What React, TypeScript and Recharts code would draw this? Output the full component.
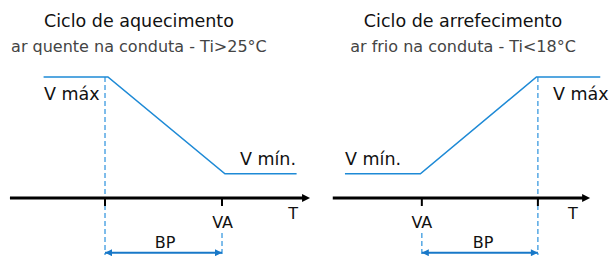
import { ComposedChart, Line, Scatter, XAxis, YAxis, ReferenceLine } from 'recharts'

// velocity levels and band
const V_MIN = 1
const V_MAX = 5
const BP = 4
const HEAT_VA = 25
const COOL_VA = 18

// heating cycle (left)
const heatingProfile = [
  { t: 18.9, v: V_MAX },
  { t: 21.1, v: V_MAX },
  { t: 25.1, v: V_MIN },
  { t: 27.55, v: V_MIN },
]
const heatingAxis = [
  { t: 17.75, v: 0 },
  { t: 27.8, v: 0 },
]
const heatingAxisTip = [{ t: 28.01, v: 0 }]

// cooling cycle (right)
const coolingProfile = [
  { t: 15.35, v: V_MIN },
  { t: 17.95, v: V_MIN },
  { t: 21.95, v: V_MAX },
  { t: 24.15, v: V_MAX },
]
const coolingAxis = [
  { t: 14.93, v: 0 },
  { t: 23.6, v: 0 },
]
const coolingAxisTip = [{ t: 23.8, v: 0 }]

const heatingLabels = [
  { t: 22.16, v: 7.07, text: 'Ciclo de aquecimento', kind: 'title' },
  { t: 22.16, v: 6.03, text: 'ar quente na conduta - Ti>25°C', kind: 'sub' },
  { t: 18.91, v: 4.05, text: 'V máx', kind: 'start' },
  { t: 27.53, v: 1.36, text: 'V mín.', kind: 'end' },
  { t: 25.02, v: -1.24, text: 'VA', kind: 'mid' },
  { t: 27.43, v: -0.87, text: 'T', kind: 'mid' },
  { t: 23.05, v: -2.07, text: 'BP', kind: 'mid' },
]
const coolingLabels = [
  { t: 19.42, v: 7.07, text: 'Ciclo de arrefecimento', kind: 'title' },
  { t: 19.42, v: 6.03, text: 'ar frio na conduta - Ti<18°C', kind: 'sub' },
  { t: 15.35, v: 1.36, text: 'V mín.', kind: 'start' },
  { t: 22.52, v: 4.05, text: 'V máx', kind: 'start' },
  { t: 18.0, v: -1.24, text: 'VA', kind: 'mid' },
  { t: 23.21, v: -0.87, text: 'T', kind: 'mid' },
  { t: 20.11, v: -2.07, text: 'BP', kind: 'mid' },
]

const FONT = '"DejaVu Sans", sans-serif'
const LINE_BLUE = '#1e8ad6'
const DASH_BLUE = '#3b9ae0'
const BP_BLUE = '#1878c8'
const BP_Y = -2.26
const DASH_BOTTOM = -2.36
const DASH_TOP_VA = -1.45
const TICK_LEN = -0.33

const labelStyle: Record<string, any> = {
  title: { fontSize: 17.5, anchor: 'middle', fill: '#111' },
  sub: { fontSize: 16, anchor: 'middle', fill: '#444' },
  start: { fontSize: 17.5, anchor: 'start', fill: '#111' },
  end: { fontSize: 17.5, anchor: 'end', fill: '#111' },
  mid: { fontSize: 16, anchor: 'middle', fill: '#111' },
}

const LabelShape = (props: any) => {
  const { cx, cy, payload } = props
  const s = labelStyle[payload.kind]
  return (
    <text x={cx} y={cy} textAnchor={s.anchor} fontSize={s.fontSize} fill={s.fill} fontFamily={FONT}>
      {payload.text}
    </text>
  )
}

const AxisArrow = (props: any) => {
  const { cx, cy } = props
  return <polygon points={`${cx},${cy} ${cx - 8},${cy - 4} ${cx - 8},${cy + 4}`} fill="#000" />
}

const BpArrow = (props: any) => {
  const { cx, cy, payload } = props
  const d = payload.dir
  return <polygon points={`${cx},${cy} ${cx - 7 * d},${cy - 3.5} ${cx - 7 * d},${cy + 3.5}`} fill={BP_BLUE} />
}

interface PanelProps {
  width: number
  domain: [number, number]
  profile: { t: number; v: number }[]
  axis: { t: number; v: number }[]
  axisTip: { t: number; v: number }[]
  bandStart: number
  solidGuideAt: number
  shortGuideAt: number
  labels: { t: number; v: number; text: string; kind: string }[]
}

function Panel({ width, domain, profile, axis, axisTip, bandStart, solidGuideAt, shortGuideAt, labels }: PanelProps) {
  const bandEnd = bandStart + BP
  const bpLine = [
    { t: bandStart, v: BP_Y },
    { t: bandEnd, v: BP_Y },
  ]
  const bpHeads = [
    { t: bandStart, v: BP_Y, dir: -1 },
    { t: bandEnd, v: BP_Y, dir: 1 },
  ]
  return (
    <ComposedChart width={width} height={256} margin={{ top: 0, right: 0, left: 0, bottom: 0 }}>
      <XAxis type="number" dataKey="t" domain={domain} allowDataOverflow hide />
      <YAxis type="number" dataKey="v" domain={[-2.397, 8.182]} allowDataOverflow hide />

      {/* dashed guides */}
      <ReferenceLine
        segment={[{ x: solidGuideAt, y: V_MAX }, { x: solidGuideAt, y: DASH_BOTTOM }]}
        stroke={DASH_BLUE}
        strokeWidth={1.3}
        strokeDasharray="5 3"
      />
      <ReferenceLine
        segment={[{ x: shortGuideAt, y: DASH_TOP_VA }, { x: shortGuideAt, y: DASH_BOTTOM }]}
        stroke={DASH_BLUE}
        strokeWidth={1.3}
        strokeDasharray="5 3"
      />

      {/* axis */}
      <Line data={axis} dataKey="v" stroke="#000" strokeWidth={3} dot={false} activeDot={false} isAnimationActive={false} />
      <Scatter data={axisTip} dataKey="v" shape={AxisArrow} activeShape={AxisArrow} isAnimationActive={false} />
      <ReferenceLine segment={[{ x: bandStart, y: 0 }, { x: bandStart, y: TICK_LEN }]} stroke="#000" strokeWidth={2} />
      <ReferenceLine segment={[{ x: bandEnd, y: 0 }, { x: bandEnd, y: TICK_LEN }]} stroke="#000" strokeWidth={2} />

      {/* velocity profile */}
      <Line
        data={profile}
        dataKey="v"
        type="linear"
        stroke={LINE_BLUE}
        strokeWidth={1.6}
        dot={false}
        activeDot={false}
        isAnimationActive={false}
      />

      {/* BP band */}
      <Line data={bpLine} dataKey="v" stroke={BP_BLUE} strokeWidth={2} dot={false} activeDot={false} isAnimationActive={false} />
      <Scatter data={bpHeads} dataKey="v" shape={BpArrow} activeShape={BpArrow} isAnimationActive={false} />

      <Scatter data={labels} dataKey="v" shape={LabelShape} activeShape={LabelShape} isAnimationActive={false} />
    </ComposedChart>
  )
}

export default function App() {
  return (
    <div style={{ position: 'absolute', left: 0, top: 0, width: 611, height: 256, background: '#fff', pointerEvents: 'none' }}>
      <div style={{ position: 'absolute', left: 0, top: 0 }}>
        <Panel
          width={320}
          domain={[17.41, 28.35]}
          profile={heatingProfile}
          axis={heatingAxis}
          axisTip={heatingAxisTip}
          bandStart={HEAT_VA - BP}
          solidGuideAt={HEAT_VA - BP}
          shortGuideAt={HEAT_VA}
          labels={heatingLabels}
        />
      </div>
      <div style={{ position: 'absolute', left: 320, top: 0 }}>
        <Panel
          width={291}
          domain={[14.49, 24.52]}
          profile={coolingProfile}
          axis={coolingAxis}
          axisTip={coolingAxisTip}
          bandStart={COOL_VA}
          solidGuideAt={COOL_VA + BP}
          shortGuideAt={COOL_VA}
          labels={coolingLabels}
        />
      </div>
    </div>
  )
}
